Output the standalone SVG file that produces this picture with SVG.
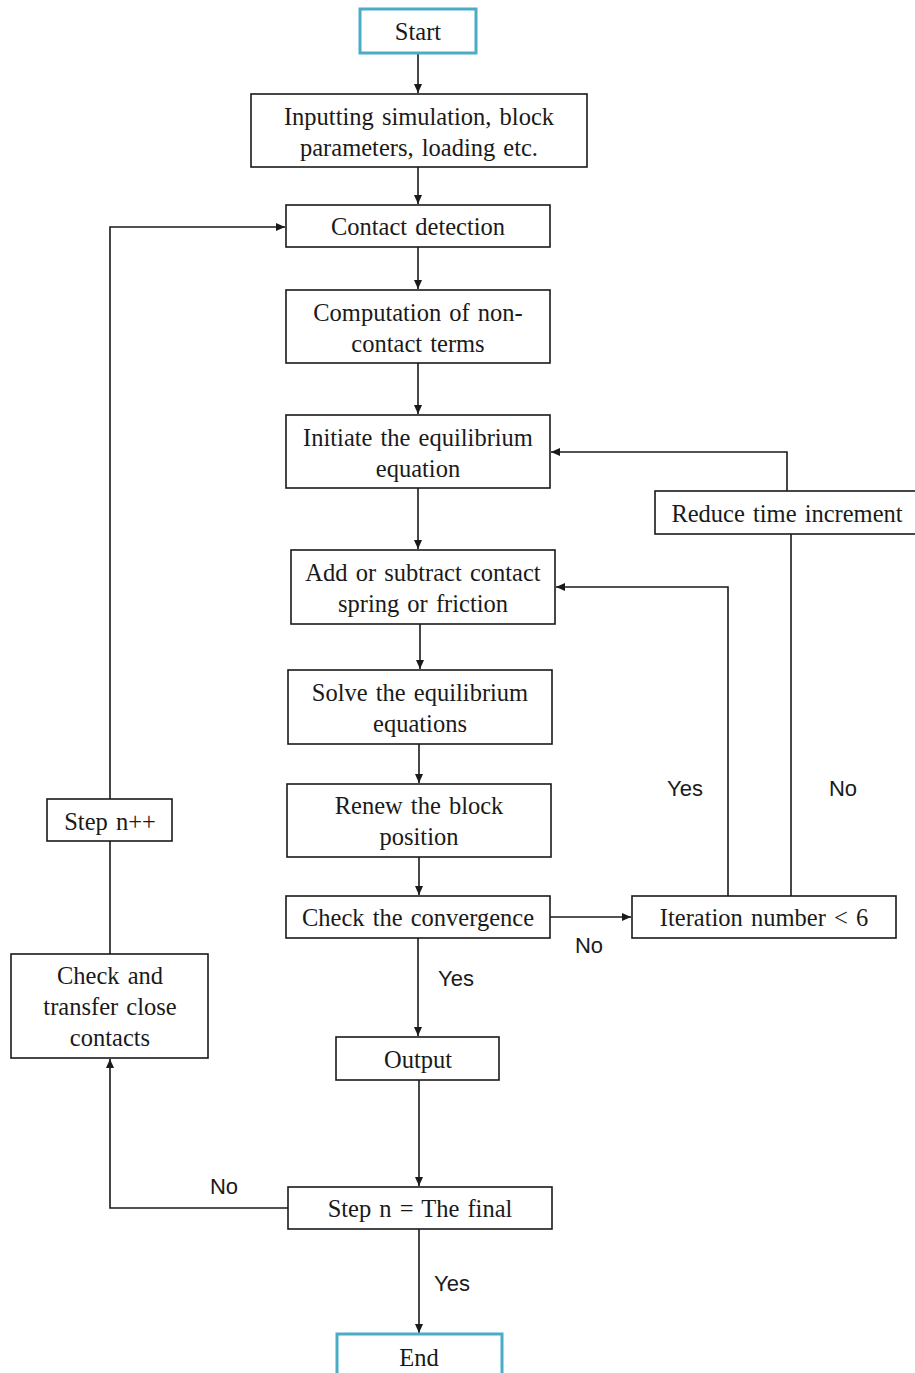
<svg xmlns="http://www.w3.org/2000/svg" width="915" height="1373" viewBox="0 0 915 1373">
<defs>
<marker id="ah" markerWidth="10" markerHeight="10" refX="9" refY="5" orient="auto" markerUnits="userSpaceOnUse">
<path d="M0,1 L9,5 L0,9 Z" fill="#1a1a1a"/>
</marker>
<style>
.box{fill:#fff;stroke:#1a1a1a;stroke-width:1.6}
.term{fill:#fff;stroke:#4bacc6;stroke-width:3}
.t{font-family:"Liberation Serif",serif;font-size:24.5px;fill:#1a1a1a;text-anchor:middle;word-spacing:2px}
.l{font-family:"Liberation Sans",sans-serif;font-size:22px;fill:#1a1a1a;text-anchor:middle}
.c{fill:none;stroke:#1a1a1a;stroke-width:1.6}
.a{marker-end:url(#ah)}
</style>
</defs>
<rect width="915" height="1373" fill="#fff"/>
<g id="connectors">
<path class="c a" d="M418,53 V93"/>
<path class="c a" d="M418,167 V204"/>
<path class="c a" d="M418,247 V289"/>
<path class="c a" d="M418,363 V414"/>
<path class="c a" d="M418,488 V549"/>
<path class="c a" d="M420,624 V669"/>
<path class="c a" d="M419,744 V783"/>
<path class="c a" d="M419,857 V895"/>
<path class="c a" d="M418,938 V1036"/>
<path class="c a" d="M419,1080 V1186"/>
<path class="c a" d="M419,1229 V1333"/>
<path class="c a" d="M550,917 H631"/>
<path class="c a" d="M728,896 V587 H556"/>
<path class="c" d="M791,896 V534"/>
<path class="c a" d="M787,491 V452 H551"/>
<path class="c a" d="M288,1208 H110 V1059"/>
<path class="c" d="M110,954 V841"/>
<path class="c a" d="M110,799 V227 H285"/>
<text class="l" x="456" y="986">Yes</text>
<text class="l" x="452" y="1291">Yes</text>
<text class="l" x="589" y="953">No</text>
<text class="l" x="685" y="796">Yes</text>
<text class="l" x="843" y="796">No</text>
<text class="l" x="224" y="1194">No</text>
</g>
<g id="start"><rect class="term" x="360" y="9" width="116" height="44"/><text class="t" x="418" y="40">Start</text></g>
<g id="inputting"><rect class="box" x="251" y="94" width="336" height="73"/><text class="t" x="419" y="125">Inputting simulation, block</text><text class="t" x="419" y="156">parameters, loading etc.</text></g>
<g id="contact"><rect class="box" x="286" y="205" width="264" height="42"/><text class="t" x="418" y="235">Contact detection</text></g>
<g id="computation"><rect class="box" x="286" y="290" width="264" height="73"/><text class="t" x="418" y="321">Computation of non-</text><text class="t" x="418" y="352">contact terms</text></g>
<g id="initiate"><rect class="box" x="286" y="415" width="264" height="73"/><text class="t" x="418" y="446">Initiate the equilibrium</text><text class="t" x="418" y="477">equation</text></g>
<g id="reduce"><rect class="box" x="655" y="491" width="262" height="43"/><text class="t" x="787" y="522">Reduce time increment</text></g>
<g id="add"><rect class="box" x="291" y="550" width="264" height="74"/><text class="t" x="423" y="581">Add or subtract contact</text><text class="t" x="423" y="612">spring or friction</text></g>
<g id="solve"><rect class="box" x="288" y="670" width="264" height="74"/><text class="t" x="420" y="701">Solve the equilibrium</text><text class="t" x="420" y="732">equations</text></g>
<g id="renew"><rect class="box" x="287" y="784" width="264" height="73"/><text class="t" x="419" y="814">Renew the block</text><text class="t" x="419" y="845">position</text></g>
<g id="check"><rect class="box" x="286" y="896" width="264" height="42"/><text class="t" x="418" y="926">Check the convergence</text></g>
<g id="iteration"><rect class="box" x="632" y="896" width="264" height="42"/><text class="t" x="764" y="926">Iteration number &lt; 6</text></g>
<g id="stepinc"><rect class="box" x="47" y="799" width="125" height="42"/><text class="t" x="110" y="830">Step n++</text></g>
<g id="transfer"><rect class="box" x="11" y="954" width="197" height="104"/><text class="t" x="110" y="984">Check and</text><text class="t" x="110" y="1015">transfer close</text><text class="t" x="110" y="1046">contacts</text></g>
<g id="output"><rect class="box" x="336" y="1037" width="163" height="43"/><text class="t" x="418" y="1068">Output</text></g>
<g id="final"><rect class="box" x="288" y="1187" width="264" height="42"/><text class="t" x="420" y="1217">Step n =  The final</text></g>
<g id="end"><rect class="term" x="337" y="1334" width="165" height="50"/><text class="t" x="419" y="1366">End</text></g>
</svg>
